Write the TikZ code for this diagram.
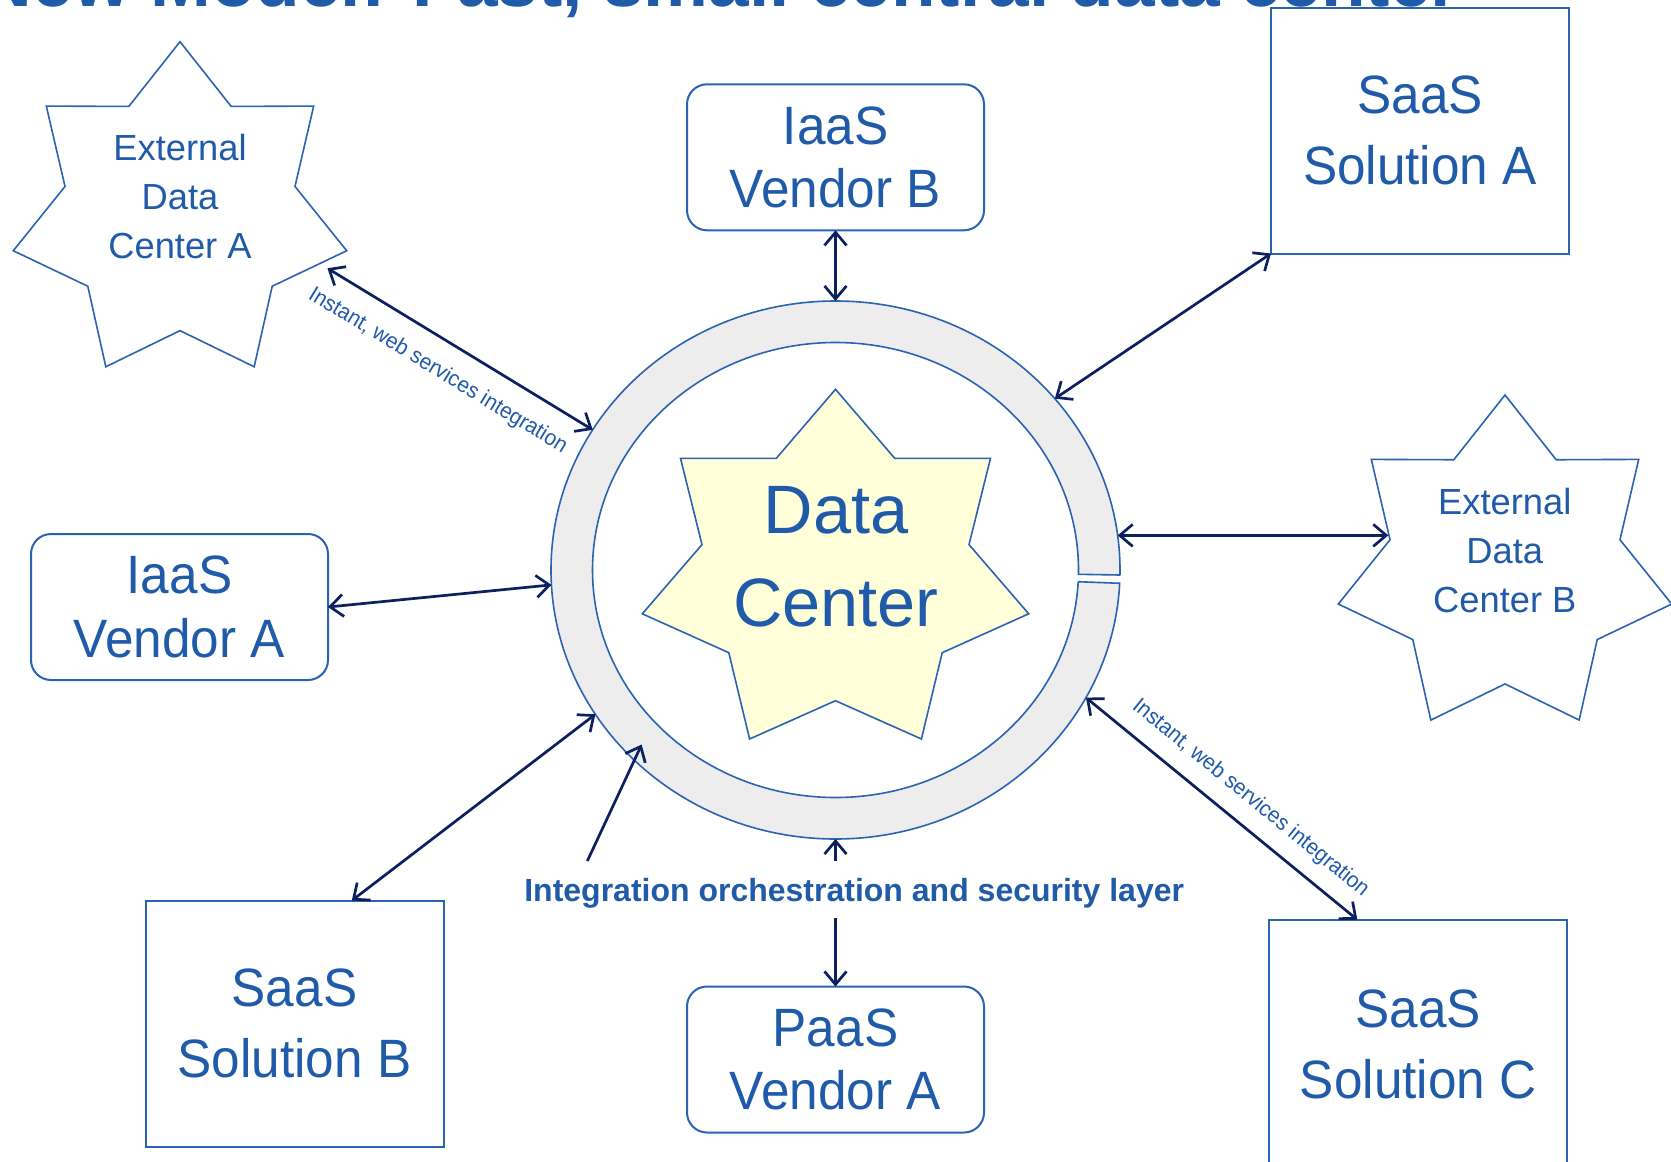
\documentclass[tikz,border=0pt]{standalone}
\usepackage{fontspec}
\setmainfont{Liberation Sans}
\newfontfamily\boxfont[FakeStretch=0.95]{Liberation Sans}
\usetikzlibrary{shapes.geometric, arrows.meta, calc}

\definecolor{txtblue}{HTML}{1F5BA9}
\definecolor{lineblue}{HTML}{2A63B2}
\definecolor{navy}{HTML}{0C1F5E}
\definecolor{ringgray}{HTML}{EDEDED}
\definecolor{staryellow}{HTML}{FFFFD9}

\begin{document}
\begin{tikzpicture}[x=1pt, y=-1pt,
  every node/.style={inner sep=0pt, outer sep=0pt},
  vendorbox/.style={draw=lineblue, line width=2pt, rounded corners=20pt,
    minimum width=297pt, minimum height=146pt, text=txtblue, align=center,
    font=\boxfont\fontsize{54}{63.5}\selectfont},
  saasbox/.style={draw=lineblue, line width=2pt, minimum width=298pt,
    minimum height=246pt, text=txtblue, align=center,
    font=\boxfont\fontsize{54}{71}\selectfont},
  extstar/.style={star, star points=7, star point ratio=1.45,
    minimum size=342pt, draw=lineblue, line width=1.6pt},
  startext/.style={text=txtblue, align=center,
    font=\fontsize{36.3}{49}\selectfont},
  barb/.tip={Straight Barb[length=13pt, width=22pt]},
  link/.style={draw=navy, line width=2.7pt, barb-barb},
  pointer/.style={draw=navy, line width=2.7pt, -barb},
  wslabel/.style={text=txtblue, font=\boxfont\fontsize{22}{26}\selectfont},
  outline/.style={draw=lineblue, line width=1.6pt},
]
\useasboundingbox (0,0) rectangle (1671,1162);
\fill[white] (0,0) rectangle (1671,1162);

% heading of the slide, running off the top edge
\node[anchor=base west, text=txtblue, font=\bfseries\fontsize{73}{80}\selectfont]
  (title) at (-20,6) {New Model: Fast, small central data center};

% integration ring round the central data center
\node[ellipse, outline, fill=ringgray, minimum width=569pt, minimum height=538pt]
  (ring) at (835.5,570) {};
\node[ellipse, outline, fill=white, minimum width=486pt, minimum height=455pt]
  (ringinner) at (835.5,570) {};
% small break in the ring on the right
\fill[white] (1070,574.9) -- (1130,575.6) -- (1130,582.6) -- (1070,581.6) -- cycle;
\draw[outline] (1078.5,574.3) -- (1120,575);
\draw[outline] (1078.2,581.7) -- (1119.7,583.3);

% central data center star
\draw[outline, fill=staryellow]
  (835.5,389.3) -- (894.7,458.3) -- (990.5,458.3) -- (969,544.6) -- (1028.7,613.8)
  -- (942.2,652.7) -- (921.4,739) -- (835.5,700.7) -- (749.6,739) -- (728.8,652.7)
  -- (642.3,613.8) -- (702,544.6) -- (680.5,458.3) -- (776.3,458.3) -- cycle;
\node[text=txtblue, align=center, font=\fontsize{68.5}{92.3}\selectfont]
  (dctext) at (836,556.7) {Data\\Center};

% external data centers
\node[extstar] (starA) at (180,212.7) {};
\node[startext] (starAtext) at (180,197) {External\\Data\\Center A};
\node[extstar] (starB) at (1505,566) {};
\node[startext] (starBtext) at (1504.8,550.7) {External\\Data\\Center B};

% vendors and solutions
\node[vendorbox] (iaasB) at (835.5,157.3) {IaaS\\Vendor B};
\node[vendorbox] (iaasA) at (179.5,607) {IaaS\\Vendor A};
\node[vendorbox] (paasA) at (835.5,1059.5) {PaaS\\Vendor A};
\node[saasbox] (saasA) at (1420,130.5) {SaaS\\Solution A};
\node[saasbox] (saasB) at (294.5,1023.5) {SaaS\\Solution B};
\node[saasbox, minimum height=250pt] (saasC) at (1418.3,1044.7) {SaaS\\Solution C};

% caption of the ring
\node[anchor=base, text=txtblue, font=\bfseries\fontsize{32}{38}\selectfont,
  text height=23pt, text depth=0pt, inner ysep=17pt]
  (layer) at (854.2,901) {Integration orchestration and security layer};

% connections
\draw[link, shorten <=9pt] (starA.-20) --
  node[wslabel, sloped, below=20pt, pos=0.49] (wsA) {Instant, web services integration}
  (ring.150.3);
\draw[link] (iaasB.south) -- (ring.north);
\draw[link] (ring.38.1) -- (saasA.south west);
\draw[link] (ring.7.3) -- (ring.7.3 -| starB.164.5);
\draw[link] (iaasA.east) -- (ring.183);
\draw[link] (saasB.65.9) -- (ring.211.2);
\draw[link] (ring.333.3) --
  node[wslabel, sloped, above=16pt, pos=0.545] (wsC) {Instant, web services integration}
  (saasC.116.8);
\draw[pointer] ($(layer.north west)+(63,0)$) -- ($(ring.center)!0.941!(ring.222.3)$);
\draw[pointer] (ring.south |- layer.north) -- (ring.south);
\draw[pointer] (ring.south |- layer.south) -- (paasA.north);
\end{tikzpicture}
\end{document}
